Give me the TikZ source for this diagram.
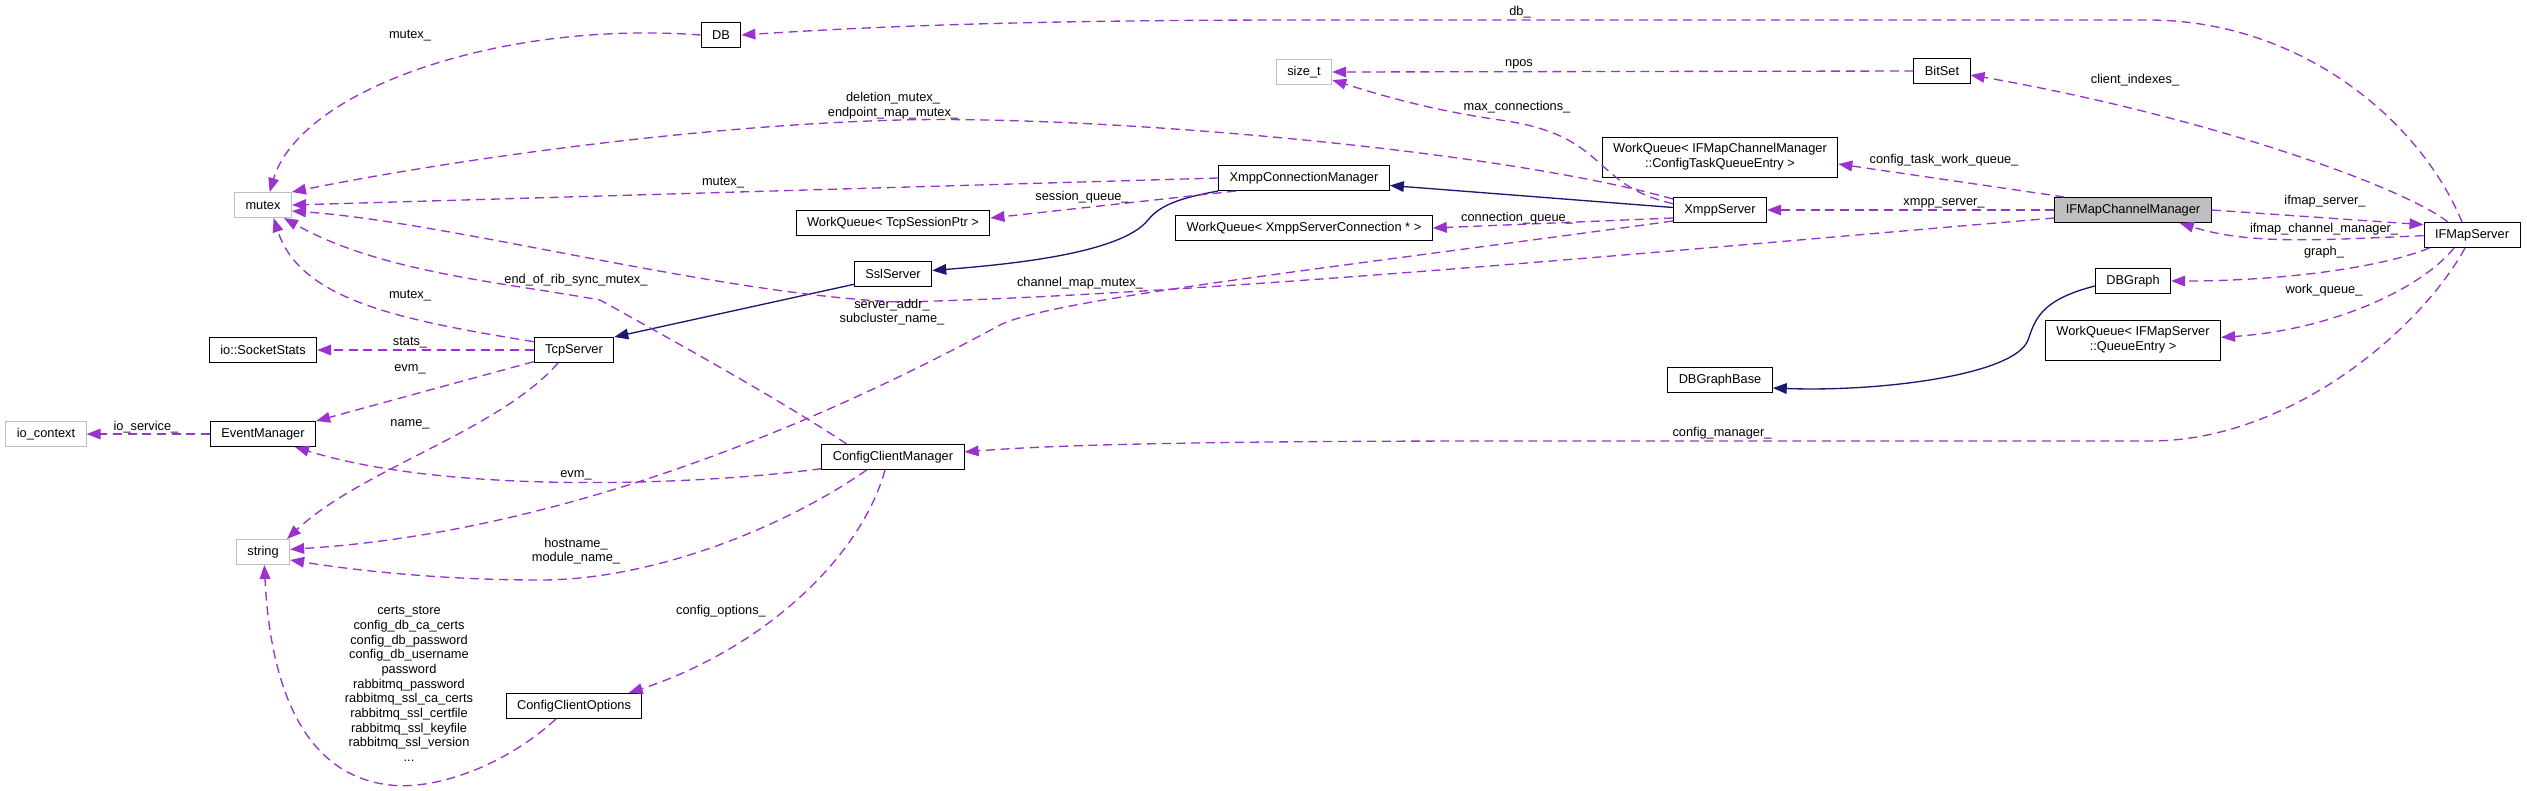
\documentclass[tikz,border=0pt]{standalone}
\usepackage{fontspec}
\setmainfont{Liberation Sans}
\usetikzlibrary{arrows.meta}

\definecolor{orchidea}{HTML}{9A32CD}
\definecolor{blunotte}{HTML}{191970}
\definecolor{grigio}{HTML}{BFBFBF}
\newcommand{\testo}{\fontsize{9.6}{11}\selectfont}

\tikzset{
    classe/.style={draw=black, line width=0.75pt, font=\testo, inner xsep=8.25pt, inner ysep=3pt, minimum height=18.75pt, align=center},
    esterna/.style={classe, draw=grigio},
    doppia/.style={classe, minimum height=30pt},
    membro/.style={draw=orchidea, line width=1pt, dash pattern=on 6.75pt off 4.25pt, -{Triangle[length=10.5pt,width=8pt]}},
    eredita/.style={draw=blunotte, line width=1pt, -{Triangle[length=10.5pt,width=8pt]}},
    etich/.style={font=\testo, inner sep=0pt, align=center}
}

\begin{document}
\begin{tikzpicture}[x=0.75pt,y=-0.75pt]
    \useasboundingbox (0,0) rectangle (2527,790);

    % Classi
    \node[classe] (db) at (721,35) {DB};
    \node[esterna] (mutex) at (263,205) {mutex};
    \node[esterna] (sizet) at (1304,72) {size\_t};
    \node[classe] (bitset) at (1942,71) {BitSet};
    \node[doppia] (wqcfg) at (1720,157) {WorkQueue< IFMapChannelManager\\::ConfigTaskQueueEntry >};
    \node[classe] (xcm) at (1304,178) {XmppConnectionManager};
    \node[classe] (wqtcp) at (893,223) {WorkQueue< TcpSessionPtr >};
    \node[classe] (xmpp) at (1720,210) {XmppServer};
    \node[classe] (wqxsc) at (1304,228) {WorkQueue< XmppServerConnection * >};
    \node[classe, fill=grigio] (ifcm) at (2133,210) {IFMapChannelManager};
    \node[classe] (ifms) at (2472,235) {IFMapServer};
    \node[classe] (ssl) at (893,274) {SslServer};
    \node[classe] (tcp) at (574,350) {TcpServer};
    \node[classe] (stats) at (263,350) {io::SocketStats};
    \node[classe] (dbgraph) at (2133,281) {DBGraph};
    \node[doppia] (wqifs) at (2133,340) {WorkQueue< IFMapServer\\::QueueEntry >};
    \node[classe] (dbgb) at (1720,380) {DBGraphBase};
    \node[esterna] (ioctx) at (46,434) {io\_context};
    \node[classe] (evm) at (263,434) {EventManager};
    \node[classe] (ccm) at (893,457) {ConfigClientManager};
    \node[esterna] (str) at (263,552) {string};
    \node[classe] (cco) at (574,706) {ConfigClientOptions};

    % Ereditarieta
    \draw[eredita] ([yshift=1.9pt]xmpp.west) -- ([yshift=-5.6pt]xcm.east);
    \draw[eredita] (xcm.south west) .. controls (1180,198) and (1160,205) .. (1148,220)
        .. controls (1120,255) and (1000,265) .. ([yshift=2.6pt]ssl.east);
    \draw[eredita] ([yshift=2pt]ssl.south west) -- (tcp.north east);
    \draw[eredita] ([yshift=-3.75pt]dbgraph.west) .. controls (2040,300) and (2035,320) .. (2028,340)
        .. controls (2015,375) and (1880,392) .. ([yshift=-6pt]dbgb.east);

    % Membri di IFMapServer
    \draw[membro] ([xshift=-7.5pt]ifms.north) .. controls (2420,120) and (2300,20) .. (2148,20)
        -- (1300,20) .. controls (1000,20) and (850,28) .. (db.east);
    \node[etich] (l-db) at (1520,12) {db\_};
    \draw[membro] ([xshift=-18pt]ifms.north) .. controls (2400,185) and (2200,115) .. ([yshift=-3pt]bitset.east);
    \node[etich] (l-client) at (2135,80) {client\_indexes\_};
    \draw[membro] ([yshift=-0.5pt]ifms.west) .. controls (2320,240) and (2250,245) .. ([xshift=35pt]ifcm.south);
    \node[etich] (l-ifcm) at (2324,229) {ifmap\_channel\_manager\_};
    \draw[membro] ([xshift=4.5pt]ifms.south west) .. controls (2380,268) and (2280,281) .. (dbgraph.east);
    \node[etich] (l-graph) at (2324,252) {graph\_};
    \draw[membro] ([xshift=-13.5pt]ifms.south) .. controls (2420,290) and (2330,330) .. ([yshift=2pt]wqifs.east);
    \node[etich] (l-work) at (2324,290) {work\_queue\_};
    \draw[membro] ([xshift=-5.25pt]ifms.south) .. controls (2420,330) and (2290,441) .. (2150,441)
        -- (1500,441) .. controls (1200,441) and (1050,445) .. ([yshift=3.75pt]ccm.east);
    \node[etich] (l-cfgman) at (1722,433) {config\_manager\_};

    % Membri di IFMapChannelManager
    \draw[membro] ([xshift=7.5pt]ifcm.north west) -- ([yshift=-5.25pt]wqcfg.east);
    \node[etich] (l-cfgtask) at (1944,160) {config\_task\_work\_queue\_};
    \draw[membro] (ifcm.west) -- (xmpp.east);
    \node[etich] (l-xmpp) at (1944,203) {xmpp\_server\_};
    \draw[membro] (ifcm.east) -- ([yshift=-2pt]ifms.north west);
    \node[etich] (l-ifms) at (2325,201) {ifmap\_server\_};
    \draw[membro] ([yshift=-6pt]ifcm.west) .. controls (1700,248) and (1200,295) .. (900,302)
        .. controls (720,295) and (450,222) .. ([yshift=-4.5pt]mutex.east);
    \node[etich] (l-chmap) at (1080,283) {channel\_map\_mutex\_};

    % Membri di XmppServer
    \draw[membro] ([yshift=-1.5pt]xmpp.north west) .. controls (1500,150) and (1100,115) .. (900,120)
        .. controls (700,125) and (450,160) .. (mutex.north east);
    \node[etich] (l-delmutex) at (893,106) {deletion\_mutex\_\\endpoint\_map\_mutex\_};
    \draw[membro] ([yshift=-5pt]xmpp.north west) .. controls (1590,185) and (1610,135) .. (1500,120)
        .. controls (1430,110) and (1380,95) .. ([yshift=-6pt]sizet.east);
    \node[etich] (l-maxconn) at (1517,107) {max\_connections\_};
    \draw[membro] ([yshift=-6pt]xmpp.west) -- (wqxsc.east);
    \node[etich] (l-connq) at (1517,218) {connection\_queue\_};
    \draw[membro] ([yshift=1.5pt]xmpp.south west) .. controls (1300,272) and (1050,300) .. (1000,325)
        .. controls (880,390) and (600,530) .. ([yshift=2pt]str.east);
    \node[etich] (l-addr) at (892,312) {server\_addr\_\\subcluster\_name\_};

    % Membri di XmppConnectionManager
    \draw[membro] (xcm.west) -- (mutex.east);
    \node[etich] (l-mutex-xcm) at (723,183) {mutex\_};
    \draw[membro] ([xshift=13.5pt]xcm.south west) -- ([yshift=3.75pt]wqtcp.east);
    \node[etich] (l-session) at (1082,197) {session\_queue\_};

    % Membri di BitSet e DB
    \draw[membro] (bitset.west) -- (sizet.east);
    \node[etich] (l-npos) at (1519,64) {npos};
    \draw[membro] (db.west) .. controls (500,20) and (300,90) .. ([xshift=5pt]mutex.north);
    \node[etich] (l-mutex-db) at (410,36) {mutex\_};

    % Membri di TcpServer
    \draw[membro] ([yshift=-3.5pt]tcp.north west) .. controls (400,320) and (300,300) .. ([xshift=8pt]mutex.south);
    \node[etich] (l-mutex-tcp) at (410,296) {mutex\_};
    \draw[membro] (tcp.west) -- (stats.east);
    \node[etich] (l-stats) at (410,343) {stats\_};
    \draw[membro] ([yshift=1pt]tcp.south west) -- (evm.north east);
    \node[etich] (l-evm-tcp) at (410,369) {evm\_};
    \draw[membro] ([xshift=-12pt]tcp.south) .. controls (500,430) and (360,470) .. ([xshift=18pt]str.north);
    \node[etich] (l-name) at (410,424) {name\_};

    % Membri di EventManager
    \draw[membro] (evm.west) -- (ioctx.east);
    \node[etich] (l-io) at (146,427) {io\_service\_};

    % Membri di ConfigClientManager
    \draw[membro] ([xshift=19pt]ccm.north west) .. controls (780,400) and (690,350) .. (600,300)
        .. controls (500,282) and (380,272) .. ([xshift=-6pt]mutex.south east);
    \node[etich] (l-rib) at (576,280) {end\_of\_rib\_sync\_mutex\_};
    \draw[membro] ([yshift=1pt]ccm.south west) .. controls (700,485) and (450,495) .. ([xshift=24pt]evm.south);
    \node[etich] (l-evm-ccm) at (576,475) {evm\_};
    \draw[membro] ([xshift=34pt]ccm.south west) .. controls (780,530) and (650,580) .. (540,580)
        .. controls (430,580) and (340,568) .. ([yshift=-6pt]str.east);
    \node[etich] (l-host) at (576,551) {hostname\_\\module\_name\_};
    \draw[membro] ([xshift=-6pt]ccm.south) .. controls (860,560) and (760,650) .. ([xshift=41pt]cco.north);
    \node[etich] (l-opts) at (721,611) {config\_options\_};

    % Membri di ConfigClientOptions
    \draw[membro] ([xshift=-13.5pt]cco.south) .. controls (500,770) and (430,790) .. (390,785)
        .. controls (300,775) and (270,680) .. ([xshift=1pt]str.south);
    \node[etich] (l-certs) at (409,684) {certs\_store\\config\_db\_ca\_certs\\config\_db\_password\\config\_db\_username\\password\\rabbitmq\_password\\rabbitmq\_ssl\_ca\_certs\\rabbitmq\_ssl\_certfile\\rabbitmq\_ssl\_keyfile\\rabbitmq\_ssl\_version\\...};
\end{tikzpicture}
\end{document}
